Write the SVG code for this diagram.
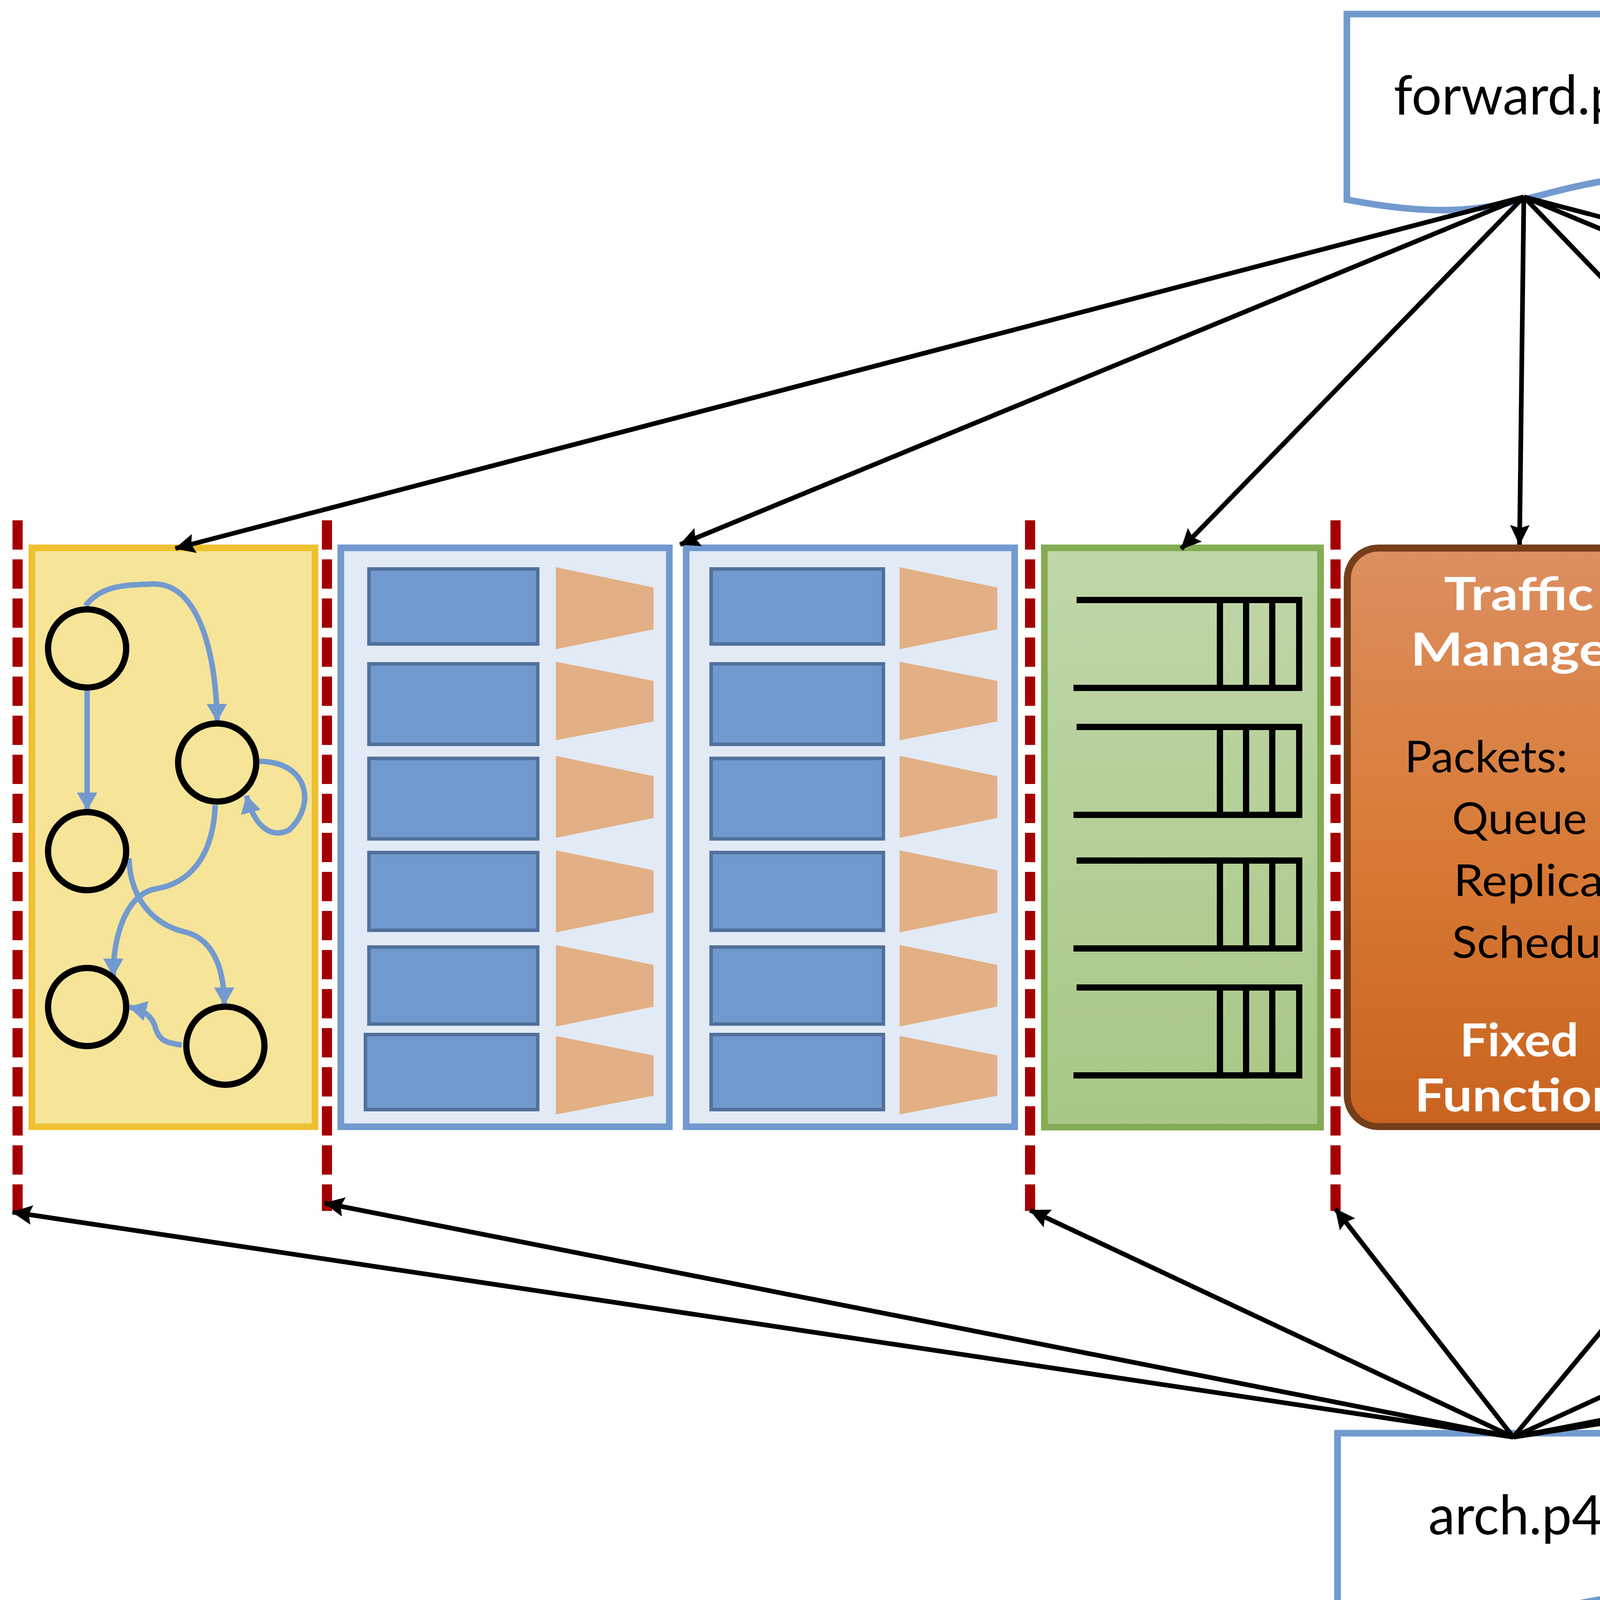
<svg xmlns="http://www.w3.org/2000/svg" width="7768" height="4212" viewBox="0 0 7768 4212">
<style>
.doc{fill:#fff;stroke:#729ACF;stroke-width:17}
.doctext{font-family:Lato,'Open Sans','Liberation Sans',sans-serif;font-size:140px;fill:#000}
.yel{fill:#F6E499;stroke:#EFC032;stroke-width:17}
.circ{fill:none;stroke:#000;stroke-width:16}
.edge{fill:none;stroke:#729ACF;stroke-width:14;marker-end:url(#gh)}
.tbl{fill:#E2EAF6;stroke:#729ACF;stroke-width:17}
.row{fill:#7099CF;stroke:#52709B;stroke-width:9}
.trap{fill:#E2B084}
.grn{fill:url(#ggrad);stroke:#84AC54;stroke-width:17}
.q{fill:none;stroke:#000;stroke-width:16;stroke-linejoin:miter}
.tm{fill:url(#tgrad);stroke:#763E19;stroke-width:18}
.tmb{font-family:Lato,'Open Sans','Liberation Sans',sans-serif;font-weight:bold;font-size:117px;fill:#fff}
.tmr{font-family:Lato,'Open Sans','Liberation Sans',sans-serif;font-size:112px;fill:#000}
.dash{stroke:#A50000;stroke-width:26;stroke-dasharray:75 25;fill:none}
.conn{stroke:#000;stroke-width:12;fill:none;marker-end:url(#ah)}
</style>
<defs>
<linearGradient id="ggrad" x1="0" y1="0" x2="0" y2="1">
<stop offset="0" stop-color="#C0D7A9"/><stop offset="1" stop-color="#A8C785"/>
</linearGradient>
<linearGradient id="tgrad" x1="0" y1="0" x2="0" y2="1">
<stop offset="0" stop-color="#DC8F60"/><stop offset="0.5" stop-color="#D97B38"/><stop offset="1" stop-color="#C9631F"/>
</linearGradient>
<marker id="ah" markerUnits="userSpaceOnUse" markerWidth="52" markerHeight="50" viewBox="0 0 52 50" refX="50" refY="25" orient="auto">
<path d="M0,0 L52,25 L0,50 L8,25 Z" fill="#000"/>
</marker>
<marker id="gh" markerUnits="userSpaceOnUse" markerWidth="46" markerHeight="52" viewBox="0 0 46 52" refX="44" refY="26" orient="auto">
<path d="M0,0 L46,26 L0,52 Z" fill="#729ACF"/>
</marker>
</defs>
<rect width="7768" height="4212" fill="#fff"/>

<g id="forward-p4">
<path class="doc" d="M3448,36 H4356 V444 C3902,444 3902,599 3448,511 Z"/>
<text class="doctext" x="3897" y="293" text-anchor="middle" textLength="658" lengthAdjust="spacingAndGlyphs">forward.p4</text>
</g>

<g id="arch-p4">
<path class="doc" d="M3424,3669 H4331 V4078 C3877,4078 3877,4233 3424,4145 Z"/>
<text class="doctext" x="3880" y="3928" text-anchor="middle" textLength="447" lengthAdjust="spacingAndGlyphs">arch.p4</text>
</g>

<g id="parser1">
<rect class="yel" x="81.5" y="1402.5" width="725" height="1482"/>
<g id="parser1-graph">
<path class="edge" d="M219,1551 C260,1495 330,1498 390,1495 C500,1490 552,1650 556,1846"/>
<path class="edge" d="M223,1768 L223,2073"/>
<path class="edge" d="M664,1949 C790,1950 810,2060 740,2125 C690,2150 650,2110 631,2037"/>
<path class="edge" d="M551,2061 C545,2200 480,2262 400,2275 C320,2290 290,2400 290,2498"/>
<path class="edge" d="M330,2197 C335,2320 410,2370 470,2385 C540,2400 574,2470 574,2572"/>
<path class="edge" d="M465,2675 C420,2670 405,2660 396,2625 C385,2595 360,2585 331,2578"/>
<circle class="circ" cx="223" cy="1660" r="100"/>
<circle class="circ" cx="556" cy="1952" r="100"/>
<circle class="circ" cx="223" cy="2179" r="100"/>
<circle class="circ" cx="223" cy="2578" r="100"/>
<circle class="circ" cx="577" cy="2677" r="100"/>
</g>
</g>

<g id="parser2">
<rect class="yel" x="4414.5" y="1402.5" width="717" height="1482"/>
<g id="parser2-graph" transform="translate(4330,0)">
<path class="edge" d="M219,1551 C260,1495 330,1498 390,1495 C500,1490 552,1650 556,1846"/>
<path class="edge" d="M223,1768 L223,2073"/>
<path class="edge" d="M664,1949 C790,1950 810,2060 740,2125 C690,2150 650,2110 631,2037"/>
<path class="edge" d="M551,2061 C545,2200 480,2262 400,2275 C320,2290 290,2400 290,2498"/>
<path class="edge" d="M330,2197 C335,2320 410,2370 470,2385 C540,2400 574,2470 574,2572"/>
<path class="edge" d="M465,2675 C420,2670 405,2660 396,2625 C385,2595 360,2585 331,2578"/>
<circle class="circ" cx="223" cy="1660" r="100"/>
<circle class="circ" cx="556" cy="1952" r="100"/>
<circle class="circ" cx="223" cy="2179" r="100"/>
<circle class="circ" cx="223" cy="2578" r="100"/>
<circle class="circ" cx="577" cy="2677" r="100"/>
</g>
</g>

<g id="table1">
<rect class="tbl" x="872.5" y="1402.5" width="841" height="1482"/>
<g id="table1-rows">
<rect class="row" x="944.5" y="1456.5" width="432" height="192"/>
<rect class="row" x="944.5" y="1699.5" width="432" height="206"/>
<rect class="row" x="944.5" y="1941.5" width="432" height="206"/>
<rect class="row" x="944.5" y="2182.5" width="432" height="199"/>
<rect class="row" x="944.5" y="2424.5" width="432" height="197"/>
<rect class="row" x="935.5" y="2648.5" width="441" height="192"/>
<polygon class="trap" points="1423,1452 1673,1504 1673,1611 1423,1662"/>
<polygon class="trap" points="1423,1694 1673,1743 1673,1847 1423,1895"/>
<polygon class="trap" points="1423,1935 1673,1987 1673,2094 1423,2145"/>
<polygon class="trap" points="1423,2177 1673,2228 1673,2336 1423,2387"/>
<polygon class="trap" points="1423,2419 1673,2470 1673,2577 1423,2628"/>
<polygon class="trap" points="1423,2652 1673,2702 1673,2805 1423,2853"/>
</g>
</g>

<g id="table2">
<rect class="tbl" x="1756.5" y="1402.5" width="841" height="1482"/>
<g transform="translate(880,0)">
<rect class="row" x="940.5" y="1456.5" width="441" height="192"/>
<rect class="row" x="940.5" y="1699.5" width="441" height="206"/>
<rect class="row" x="940.5" y="1941.5" width="441" height="206"/>
<rect class="row" x="940.5" y="2182.5" width="441" height="199"/>
<rect class="row" x="940.5" y="2424.5" width="441" height="197"/>
<rect class="row" x="940.5" y="2648.5" width="441" height="192"/>
<polygon class="trap" points="1423,1452 1673,1504 1673,1611 1423,1662"/>
<polygon class="trap" points="1423,1694 1673,1743 1673,1847 1423,1895"/>
<polygon class="trap" points="1423,1935 1673,1987 1673,2094 1423,2145"/>
<polygon class="trap" points="1423,2177 1673,2228 1673,2336 1423,2387"/>
<polygon class="trap" points="1423,2419 1673,2470 1673,2577 1423,2628"/>
<polygon class="trap" points="1423,2652 1673,2702 1673,2805 1423,2853"/>
</g>
</g>

<g id="queues1">
<rect class="grn" x="2673.5" y="1402.5" width="707" height="1483"/>
<g id="queues1-q">
<path class="q" d="M2756,1536 H3326 V1761 H2748 M3123,1536 V1761 M3190,1536 V1761 M3257,1536 V1761"/>
<path class="q" d="M2756,1861 H3326 V2086 H2748 M3123,1861 V2086 M3190,1861 V2086 M3257,1861 V2086"/>
<path class="q" d="M2756,2203 H3326 V2428 H2748 M3123,2203 V2428 M3190,2203 V2428 M3257,2203 V2428"/>
<path class="q" d="M2756,2528 H3326 V2753 H2748 M3123,2528 V2753 M3190,2528 V2753 M3257,2528 V2753"/>
</g>
</g>

<g id="traffic-manager">
<rect class="tm" x="3449" y="1403" width="889" height="1481" rx="80" ry="80"/>
<text class="tmb" x="3888" y="1562" text-anchor="middle" textLength="383" lengthAdjust="spacingAndGlyphs">Traffic</text>
<text class="tmb" x="3891" y="1704" text-anchor="middle" textLength="560" lengthAdjust="spacingAndGlyphs">Manager</text>
<text class="tmr" x="3596" y="1977" textLength="417" lengthAdjust="spacingAndGlyphs">Packets:</text>
<text class="tmr" x="3717" y="2135" textLength="346" lengthAdjust="spacingAndGlyphs">Queue</text>
<text class="tmr" x="3721" y="2294" textLength="492" lengthAdjust="spacingAndGlyphs">Replicate</text>
<text class="tmr" x="3717" y="2452" textLength="472" lengthAdjust="spacingAndGlyphs">Schedule</text>
<text class="tmb" x="3889" y="2704" text-anchor="middle" textLength="304" lengthAdjust="spacingAndGlyphs">Fixed</text>
<text class="tmb" x="3886" y="2845" text-anchor="middle" textLength="530" lengthAdjust="spacingAndGlyphs">Function</text>
</g>

<g id="table3">
<rect class="tbl" x="5207.5" y="1402.5" width="839" height="1482"/>
<g transform="translate(4335,0)">
<rect class="row" x="944.5" y="1456.5" width="432" height="192"/>
<rect class="row" x="944.5" y="1699.5" width="432" height="206"/>
<rect class="row" x="944.5" y="1941.5" width="432" height="206"/>
<rect class="row" x="944.5" y="2182.5" width="432" height="199"/>
<rect class="row" x="944.5" y="2424.5" width="432" height="197"/>
<rect class="row" x="944.5" y="2648.5" width="432" height="192"/>
<polygon class="trap" points="1423,1452 1673,1504 1673,1611 1423,1662"/>
<polygon class="trap" points="1423,1694 1673,1743 1673,1847 1423,1895"/>
<polygon class="trap" points="1423,1935 1673,1987 1673,2094 1423,2145"/>
<polygon class="trap" points="1423,2177 1673,2228 1673,2336 1423,2387"/>
<polygon class="trap" points="1423,2419 1673,2470 1673,2577 1423,2628"/>
<polygon class="trap" points="1423,2652 1673,2702 1673,2805 1423,2853"/>
</g>
</g>

<g id="table4">
<rect class="tbl" x="6084.5" y="1402.5" width="837" height="1482"/>
<g transform="translate(5211,0)">
<rect class="row" x="944.5" y="1456.5" width="432" height="192"/>
<rect class="row" x="944.5" y="1699.5" width="432" height="206"/>
<rect class="row" x="944.5" y="1941.5" width="432" height="206"/>
<rect class="row" x="944.5" y="2182.5" width="432" height="199"/>
<rect class="row" x="944.5" y="2424.5" width="432" height="197"/>
<rect class="row" x="935.5" y="2648.5" width="441" height="192"/>
<polygon class="trap" points="1423,1452 1673,1504 1673,1611 1423,1662"/>
<polygon class="trap" points="1423,1694 1673,1743 1673,1847 1423,1895"/>
<polygon class="trap" points="1423,1935 1673,1987 1673,2094 1423,2145"/>
<polygon class="trap" points="1423,2177 1673,2228 1673,2336 1423,2387"/>
<polygon class="trap" points="1423,2419 1673,2470 1673,2577 1423,2628"/>
<polygon class="trap" points="1423,2652 1673,2702 1673,2805 1423,2853"/>
</g>
</g>

<g id="queues2">
<rect class="grn" x="6988.5" y="1402.5" width="710" height="1483"/>
<g transform="translate(4315,0)">
<path class="q" d="M2749,1536 H3326 V1761 H2749 M3123,1536 V1761 M3190,1536 V1761 M3257,1536 V1761"/>
<path class="q" d="M2749,1861 H3326 V2086 H2749 M3123,1861 V2086 M3190,1861 V2086 M3257,1861 V2086"/>
<path class="q" d="M2749,2203 H3326 V2428 H2749 M3123,2203 V2428 M3190,2203 V2428 M3257,2203 V2428"/>
<path class="q" d="M2749,2528 H3326 V2753 H2749 M3123,2528 V2753 M3190,2528 V2753 M3257,2528 V2753"/>
</g>
</g>

<g id="stage-boundaries">
<line class="dash" x1="45" y1="1332" x2="45" y2="3100"/>
<line class="dash" x1="837" y1="1332" x2="837" y2="3100"/>
<line class="dash" x1="2637" y1="1332" x2="2637" y2="3100"/>
<line class="dash" x1="3419" y1="1332" x2="3419" y2="3100"/>
<line class="dash" x1="4370" y1="1332" x2="4370" y2="3100"/>
<line class="dash" x1="5170" y1="1332" x2="5170" y2="3100"/>
<line class="dash" x1="6953" y1="1332" x2="6953" y2="3100"/>
<line class="dash" x1="7728" y1="1332" x2="7728" y2="3100"/>
</g>

<g id="connectors">
<line class="conn" x1="3901" y1="504" x2="449" y2="1404"/>
<line class="conn" x1="3901" y1="504" x2="1741" y2="1394"/>
<line class="conn" x1="3901" y1="504" x2="3024" y2="1405"/>
<line class="conn" x1="3901" y1="504" x2="3890" y2="1394"/>
<line class="conn" x1="3901" y1="504" x2="4769" y2="1405"/>
<line class="conn" x1="3901" y1="504" x2="6039" y2="1397"/>
<line class="conn" x1="3901" y1="504" x2="7339" y2="1404"/>
<line class="conn" x1="3874" y1="3679" x2="32" y2="3103"/>
<line class="conn" x1="3874" y1="3679" x2="831" y2="3080"/>
<line class="conn" x1="3874" y1="3679" x2="2637" y2="3098"/>
<line class="conn" x1="3874" y1="3679" x2="3419" y2="3095"/>
<line class="conn" x1="3874" y1="3679" x2="4363" y2="3090"/>
<line class="conn" x1="3874" y1="3679" x2="5160" y2="3090"/>
<line class="conn" x1="3874" y1="3679" x2="6942" y2="3088"/>
<line class="conn" x1="3874" y1="3679" x2="7717" y2="3088"/>
</g>
</svg>
